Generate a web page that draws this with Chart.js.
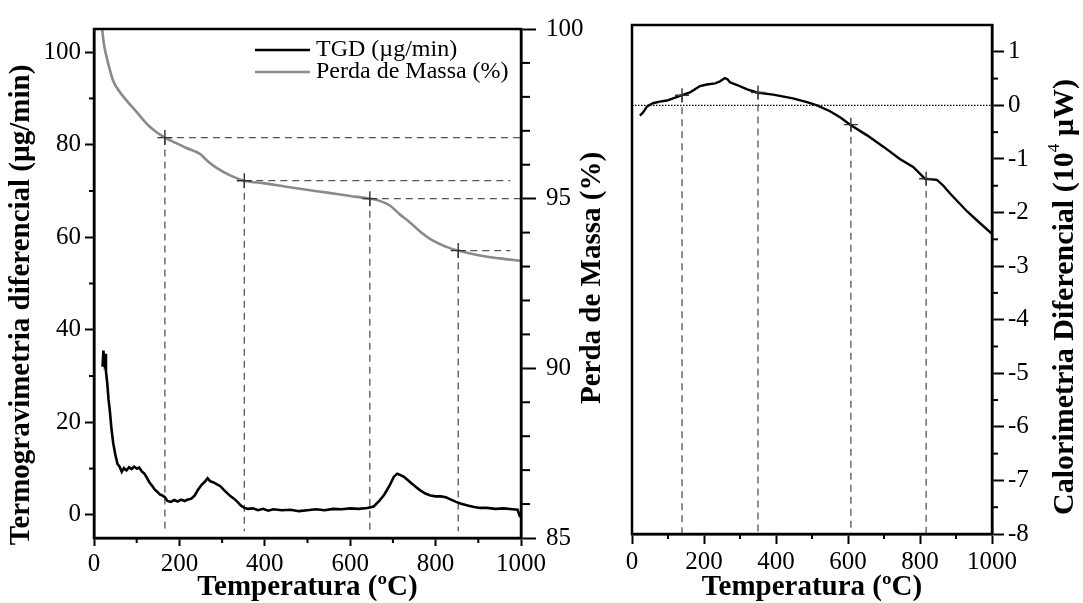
<!DOCTYPE html>
<html>
<head>
<meta charset="utf-8">
<script src="https://cdn.jsdelivr.net/npm/chart.js@4.4.0/dist/chart.umd.min.js"></script>
<style>
  body { margin: 0; background: #fff; }
  #wrap { position: relative; width: 1083px; height: 603px; overflow: hidden; }
  canvas { position: absolute; top: 0; }
  #tgChart { left: 0; }
  #dscChart { left: 600px; }
</style>
</head>
<body>
<div id="wrap">
  <canvas id="tgChart" width="615" height="603"></canvas>
  <canvas id="dscChart" width="483" height="603"></canvas>
</div>
<script>
// Painel esquerdo: perda de massa (TG) e TGD
const tgTemp = [15, 19, 24, 30, 37, 45, 60, 77, 100, 124, 145, 166, 190, 215, 248, 265, 288, 320, 352, 400, 450, 482, 550, 600, 646, 670, 693, 715, 740, 765, 794, 825, 853, 900, 950, 1000];
const tgMass = [100.6, 100.0, 99.5, 99.15, 98.8, 98.47, 98.15, 97.88, 97.55, 97.2, 96.97, 96.8, 96.65, 96.5, 96.32, 96.12, 95.9, 95.68, 95.53, 95.45, 95.35, 95.29, 95.17, 95.08, 95.0, 94.93, 94.8, 94.55, 94.3, 94.02, 93.76, 93.58, 93.47, 93.33, 93.24, 93.17];

const dtgTemp = [20, 22, 24, 26, 28, 31, 34, 37, 41, 45, 50, 55, 60, 65, 70, 76, 82, 88, 94, 100, 106, 112, 118, 124, 130, 136, 142, 148, 154, 160, 166, 172, 180, 188, 196, 204, 212, 220, 228, 236, 244, 252, 260, 266, 272, 280, 288, 296, 304, 312, 320, 328, 336, 344, 352, 360, 372, 384, 396, 408, 420, 440, 460, 480, 500, 520, 540, 560, 580, 600, 620, 640, 655, 668, 680, 692, 702, 710, 718, 726, 734, 744, 754, 764, 776, 788, 800, 812, 824, 836, 848, 860, 875, 890, 905, 920, 940, 960, 980, 992, 998];
const dtgRate = [32, 35.5, 33.5, 34.8, 31, 28.5, 25, 22.6, 18.5, 15.5, 13, 11, 10.4, 9.3, 10.1, 9.6, 10.3, 9.9, 10.4, 10.0, 10.2, 9.4, 8.9, 8.0, 7.0, 6.3, 5.5, 5.0, 4.4, 4.2, 3.8, 3.0, 2.8, 3.2, 2.9, 3.3, 3.0, 3.3, 3.5, 4.2, 5.5, 6.5, 7.2, 7.9, 7.3, 7.0, 6.6, 6.2, 5.4, 4.7, 4.0, 3.5, 2.8, 2.0, 1.5, 1.3, 1.4, 1.0, 1.3, 0.9, 1.2, 1.0, 1.1, 0.8, 1.0, 1.2, 1.0, 1.3, 1.2, 1.4, 1.3, 1.5, 1.8, 3.0, 4.4, 6.3, 8.2, 8.9, 8.6, 8.2, 7.6, 6.8, 6.0, 5.3, 4.6, 4.2, 4.0, 4.0, 3.8, 3.3, 2.8, 2.4, 2.0, 1.7, 1.5, 1.5, 1.3, 1.4, 1.2, 1.1, -0.5];

const tgMarkTemp = [166, 352, 646, 853];
const tgMarkMass = [96.8, 95.53, 95.0, 93.47];
const tgGuideEnd = [1000, 975, 1000, 975];

// Painel direito: calorimetria diferencial
const dscTemp = [22, 31, 42, 58, 77, 97, 118, 139, 161, 175, 189, 208, 231, 245, 258, 265, 272, 292, 320, 347, 392, 447, 486, 514, 550, 580, 606, 653, 700, 744, 781, 814, 847, 865, 883, 931, 967, 1000];
const dscFlow = [-0.19, -0.13, -0.02, 0.04, 0.07, 0.09, 0.14, 0.19, 0.24, 0.3, 0.36, 0.39, 0.41, 0.45, 0.51, 0.49, 0.43, 0.38, 0.3, 0.24, 0.2, 0.13, 0.06, 0.0, -0.11, -0.23, -0.36, -0.56, -0.78, -1.0, -1.15, -1.37, -1.39, -1.5, -1.64, -1.98, -2.2, -2.4];

const dscMarkTemp = [139, 350, 608, 817];
const dscMarkFlow = [0.19, 0.24, -0.36, -1.37];

// ticks
const tempTicks = [0, 200, 400, 600, 800, 1000];
const tempMinor = [100, 300, 500, 700, 900];
const dtgTicks = [0, 20, 40, 60, 80, 100];
const dtgMinor = [10, 30, 50, 70, 90];
const massTicks = [85, 90, 95, 100];
const massMinor = [86, 87, 88, 89, 91, 92, 93, 94, 96, 97, 98, 99];
const dscTicks = [-8, -7, -6, -5, -4, -3, -2, -1, 0, 1];
const dscMinor = [-7.5, -6.5, -5.5, -4.5, -3.5, -2.5, -1.5, -0.5, 0.5];

const serif = "'Liberation Serif', 'Times New Roman', serif";
Chart.defaults.font.family = serif;
Chart.defaults.color = '#000';

const pairs = (xs, ys) => xs.map((x, i) => ({ x: x, y: ys[i] }));

function makeMinorTicks(list) {
  return {
    id: 'minorTicks',
    afterDraw(chart) {
      const ctx = chart.ctx;
      ctx.save();
      ctx.strokeStyle = '#000';
      ctx.lineWidth = 2;
      list.forEach(m => {
        const s = chart.scales[m.axis];
        m.values.forEach(v => {
          const p = s.getPixelForValue(v);
          ctx.beginPath();
          if (s.isHorizontal()) {
            ctx.moveTo(p, s.top);
            ctx.lineTo(p, s.top + m.len);
          } else if (s.position === 'left') {
            ctx.moveTo(s.right - m.len, p);
            ctx.lineTo(s.right, p);
          } else {
            ctx.moveTo(s.left, p);
            ctx.lineTo(s.left + m.len, p);
          }
          ctx.stroke();
        });
      });
      ctx.restore();
    }
  };
}

const framePlugin = {
  id: 'frame',
  afterDraw(chart) {
    const a = chart.chartArea;
    const ctx = chart.ctx;
    ctx.save();
    ctx.strokeStyle = '#000';
    ctx.lineWidth = 2.5;
    ctx.strokeRect(a.left, a.top, a.right - a.left, a.bottom - a.top);
    ctx.restore();
  }
};

// rotated titles, read bottom to top
function makeSideTitles(items) {
  return {
    id: 'sideTitles',
    afterDraw(chart) {
      const ctx = chart.ctx;
      items.forEach(item => {
        ctx.save();
        ctx.translate(item.x, item.y);
        ctx.rotate(-Math.PI / 2);
        ctx.fillStyle = '#000';
        ctx.textBaseline = 'middle';
        ctx.textAlign = 'left';
        const widths = item.parts.map(p => { ctx.font = p.font; return ctx.measureText(p.text).width; });
        let cx = -widths.reduce((a, b) => a + b, 0) / 2;
        item.parts.forEach((p, i) => {
          ctx.font = p.font;
          ctx.fillText(p.text, cx, p.dy || 0);
          cx += widths[i];
        });
        ctx.restore();
      });
    }
  };
}

const legendPlugin = {
  id: 'innerLegend',
  afterDraw(chart) {
    const a = chart.chartArea;
    const ctx = chart.ctx;
    ctx.save();
    ctx.font = '24px ' + serif;
    ctx.textBaseline = 'middle';
    ctx.fillStyle = '#000';
    chart.data.datasets.slice(0, 2).forEach((ds, i) => {
      const y = a.top + 21 + i * 22;
      ctx.strokeStyle = ds.borderColor;
      ctx.lineWidth = 2.5;
      ctx.beginPath();
      ctx.moveTo(a.left + 161, y);
      ctx.lineTo(a.left + 216, y);
      ctx.stroke();
      ctx.fillText(ds.label, a.left + 222, y);
    });
    ctx.restore();
  }
};

const tickFont = { size: 25 };
const plainLabel = v => String(v);
const titleFont = 'bold 29px ' + serif;
const bigTitleFont = 'bold 30px ' + serif;

// grafico TG / TGD
const tgDatasets = [
  {
    label: 'TGD (\u00b5g/min)',
    data: pairs(dtgTemp, dtgRate),
    yAxisID: 'y',
    borderColor: '#000',
    borderWidth: 2.6,
    pointRadius: 0,
    order: 1
  },
  {
    label: 'Perda de Massa (%)',
    data: pairs(tgTemp, tgMass),
    yAxisID: 'y2',
    borderColor: '#8a8a8a',
    borderWidth: 2.6,
    pointRadius: 0,
    cubicInterpolationMode: 'monotone',
    order: 1
  },
  {
    label: 'marcas',
    data: pairs(tgMarkTemp, tgMarkMass),
    yAxisID: 'y2',
    showLine: false,
    pointStyle: 'cross',
    pointRadius: 7.5,
    borderColor: '#333',
    borderWidth: 1.4,
    order: 0
  }
];
tgMarkTemp.forEach((t, i) => {
  tgDatasets.push({
    data: [{ x: t, y: tgMarkMass[i] }, { x: t, y: 85.2 }],
    yAxisID: 'y2', borderColor: '#555', borderWidth: 1.3, borderDash: [7, 5], pointRadius: 0, order: 2
  });
  tgDatasets.push({
    data: [{ x: t, y: tgMarkMass[i] }, { x: tgGuideEnd[i], y: tgMarkMass[i] }],
    yAxisID: 'y2', borderColor: '#555', borderWidth: 1.3, borderDash: [7, 5], pointRadius: 0, order: 2
  });
});

new Chart(document.getElementById('tgChart'), {
  type: 'line',
  data: { datasets: tgDatasets },
  options: {
    responsive: false,
    animation: false,
    layout: { padding: { top: 29, left: 0, right: 0, bottom: 0 } },
    plugins: { legend: { display: false }, tooltip: { enabled: false } },
    scales: {
      x: {
        type: 'linear', position: 'bottom', min: 0, max: 1000,
        afterBuildTicks: s => { s.ticks = tempTicks.map(v => ({ value: v })); },
        afterFit: s => { s.height = 65; },
        ticks: { font: tickFont, padding: 3, maxRotation: 0, autoSkip: false, callback: plainLabel },
        grid: { drawOnChartArea: false, tickLength: 8, tickWidth: 2, tickColor: '#000' },
        border: { width: 2.5, color: '#000' },
        title: { display: true, text: 'Temperatura (\u00baC)', font: { size: 29, weight: 'bold' }, padding: { top: 0, bottom: -2 } }
      },
      y: {
        type: 'linear', position: 'left', min: -5, max: 105,
        afterBuildTicks: s => { s.ticks = dtgTicks.map(v => ({ value: v })); },
        afterFit: s => { s.width = 94; },
        ticks: { font: tickFont, padding: 4, callback: plainLabel },
        grid: { drawOnChartArea: false, tickLength: 9, tickWidth: 2, tickColor: '#000' },
        border: { width: 2.5, color: '#000' }
      },
      y2: {
        type: 'linear', position: 'right', min: 85, max: 100,
        afterBuildTicks: s => { s.ticks = massTicks.map(v => ({ value: v })); },
        afterFit: s => { s.width = 94; },
        ticks: { font: tickFont, padding: 10, callback: plainLabel },
        grid: { drawOnChartArea: false, tickLength: 15, tickWidth: 2, tickColor: '#000' },
        border: { width: 2.5, color: '#000' }
      }
    }
  },
  plugins: [
    framePlugin,
    legendPlugin,
    makeMinorTicks([
      { axis: 'x', values: tempMinor, len: 5 },
      { axis: 'y', values: dtgMinor, len: 5 },
      { axis: 'y2', values: massMinor, len: 9 }
    ]),
    makeSideTitles([
      { x: 22, y: 305, parts: [{ text: 'Termogravimetria diferencial (\u00b5g/min)', font: titleFont }] },
      { x: 593, y: 278, parts: [{ text: 'Perda de Massa (%)', font: titleFont }] }
    ])
  ]
});

// grafico DSC
const dscDatasets = [
  {
    label: 'DSC',
    data: pairs(dscTemp, dscFlow),
    borderColor: '#000',
    borderWidth: 2.4,
    pointRadius: 0,
    order: 1
  },
  {
    label: 'marcas',
    data: pairs(dscMarkTemp, dscMarkFlow),
    showLine: false,
    pointStyle: 'cross',
    pointRadius: 7,
    borderColor: '#333',
    borderWidth: 1.4,
    order: 0
  },
  {
    label: 'zero',
    data: [{ x: 0, y: 0 }, { x: 1000, y: 0 }],
    borderColor: '#000',
    borderWidth: 1.3,
    borderDash: [1.5, 1.5],
    pointRadius: 0,
    order: 2
  }
];
dscMarkTemp.forEach((t, i) => {
  dscDatasets.push({
    data: [{ x: t, y: dscMarkFlow[i] }, { x: t, y: -8 }],
    borderColor: '#555', borderWidth: 1.3, borderDash: [7, 5], pointRadius: 0, order: 2
  });
});

new Chart(document.getElementById('dscChart'), {
  type: 'line',
  data: { datasets: dscDatasets },
  options: {
    responsive: false,
    animation: false,
    layout: { padding: { top: 25, left: 32, right: 0, bottom: 0 } },
    plugins: { legend: { display: false }, tooltip: { enabled: false } },
    scales: {
      x: {
        type: 'linear', position: 'bottom', min: 0, max: 1000,
        afterBuildTicks: s => { s.ticks = tempTicks.map(v => ({ value: v })); },
        afterFit: s => { s.height = 69; },
        ticks: { font: tickFont, padding: 3, maxRotation: 0, autoSkip: false, callback: plainLabel },
        grid: { drawOnChartArea: false, tickLength: 10, tickWidth: 2, tickColor: '#000' },
        border: { width: 2.5, color: '#000' },
        title: { display: true, text: 'Temperatura (\u00baC)', font: { size: 29, weight: 'bold' }, padding: { top: 0, bottom: -2 } }
      },
      y: {
        type: 'linear', position: 'right', min: -8, max: 1.5,
        afterBuildTicks: s => { s.ticks = dscTicks.map(v => ({ value: v })); },
        afterFit: s => { s.width = 91; },
        ticks: { font: tickFont, padding: 4, callback: plainLabel },
        grid: { drawOnChartArea: false, tickLength: 12, tickWidth: 2, tickColor: '#000' },
        border: { width: 2.5, color: '#000' }
      }
    }
  },
  plugins: [
    framePlugin,
    makeMinorTicks([
      { axis: 'x', values: tempMinor, len: 5 },
      { axis: 'y', values: dscMinor, len: 6 }
    ]),
    makeSideTitles([
      { x: 465, y: 297, parts: [
        { text: 'Calorimetria Diferencial (10', font: bigTitleFont },
        { text: '4', font: '17px ' + serif, dy: -10 },
        { text: ' \u00b5W)', font: bigTitleFont }
      ] }
    ])
  ]
});
</script>
</body>
</html>
